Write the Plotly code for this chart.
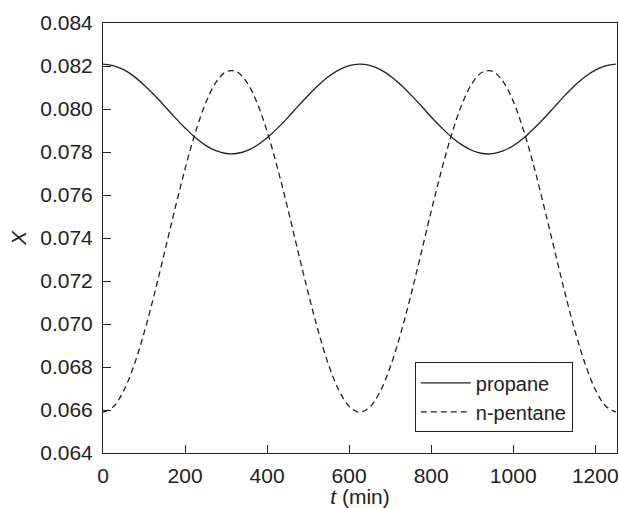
import plotly.graph_objects as go

t_min = [0, 25, 50, 75, 100, 125, 150, 175, 200, 225, 250, 275, 300, 325, 350, 375, 400,
         425, 450, 475, 500, 525, 550, 575, 600, 625, 650, 675, 700, 725, 750, 775, 800,
         825, 850, 875, 900, 925, 950, 975, 1000, 1025, 1050, 1075, 1100, 1125, 1150, 1175,
         1200, 1225, 1250]

propane = [0.08209, 0.08202, 0.08183, 0.08153, 0.08112, 0.08065, 0.08014, 0.07961, 0.07912,
           0.07867, 0.07831, 0.07806, 0.07793, 0.07793, 0.07805, 0.07830, 0.07866, 0.07910,
           0.07959, 0.08012, 0.08063, 0.08110, 0.08151, 0.08182, 0.08202, 0.08209, 0.08203,
           0.08184, 0.08154, 0.08114, 0.08067, 0.08016, 0.07963, 0.07914, 0.07869, 0.07833,
           0.07807, 0.07793, 0.07792, 0.07805, 0.07829, 0.07864, 0.07908, 0.07957, 0.08009,
           0.08061, 0.08109, 0.08150, 0.08181, 0.08201, 0.08209]

n_pentane = [0.06590, 0.06615, 0.06688, 0.06805, 0.06958, 0.07138, 0.07333, 0.07532, 0.07721,
             0.07890, 0.08026, 0.08123, 0.08173, 0.08174, 0.08126, 0.08031, 0.07896, 0.07728,
             0.07540, 0.07341, 0.07146, 0.06965, 0.06810, 0.06692, 0.06617, 0.06590, 0.06613,
             0.06684, 0.06799, 0.06951, 0.07130, 0.07325, 0.07524, 0.07714, 0.07883, 0.08022,
             0.08120, 0.08172, 0.08175, 0.08129, 0.08036, 0.07902, 0.07736, 0.07547, 0.07349,
             0.07153, 0.06971, 0.06816, 0.06696, 0.06619, 0.06590]

x_ticks = [0, 200, 400, 600, 800, 1000, 1200]
y_ticks = [0.064, 0.066, 0.068, 0.070, 0.072, 0.074, 0.076, 0.078, 0.080, 0.082, 0.084]

fig = go.Figure()
fig.add_trace(go.Scatter(x=t_min, y=propane, mode="lines", name="propane",
                         line=dict(color="#222222", width=1.3, shape="spline")))
fig.add_trace(go.Scatter(x=t_min, y=n_pentane, mode="lines", name="n-pentane",
                         line=dict(color="#222222", width=1.3, dash="6px,4px", shape="spline")))

font = dict(family="Liberation Sans, Arial, sans-serif", size=21, color="#222222")
legend_font = dict(family="Liberation Sans, Arial, sans-serif", size=20, color="#222222")

fig.update_layout(
    width=619, height=508,
    margin=dict(l=103, r=2, t=23, b=55),
    paper_bgcolor="white", plot_bgcolor="white",
    font=font,
    showlegend=True,
    legend=dict(x=0.914, y=0.048, xanchor="right", yanchor="bottom",
                bordercolor="#222222", borderwidth=1, bgcolor="white",
                font=legend_font, tracegroupgap=0, itemwidth=50),
    xaxis=dict(range=[0, 1253], tickvals=x_ticks, ticks="inside", ticklen=8,
               tickcolor="#222222", showline=True, linecolor="#222222", linewidth=1,
               mirror=True, showgrid=False, zeroline=False, automargin=False,
               ticklabelstandoff=4,
               title=dict(text="<i>t</i> (min)", standoff=0, font=font)),
    yaxis=dict(range=[0.064, 0.084], tickvals=y_ticks, tickformat=".3f", ticks="inside",
               ticklen=8, tickcolor="#222222", showline=True, linecolor="#222222",
               linewidth=1, mirror=True, showgrid=False, zeroline=False, automargin=False,
               ticklabelstandoff=5,
               title=dict(text="<i>X</i>", standoff=7, font=font)),
)

fig.write_html("out.html", config={"displayModeBar": False},
               post_script="document.body.style.margin='0';document.body.style.overflow='hidden';")
